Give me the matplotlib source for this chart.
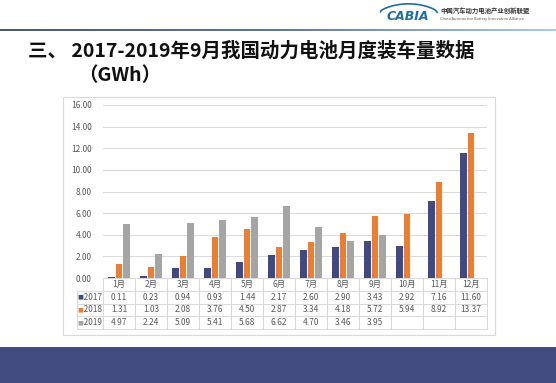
import numpy as np
import matplotlib
matplotlib.use("Agg")
import matplotlib.pyplot as plt
from matplotlib.patches import Rectangle
from matplotlib.colors import LinearSegmentedColormap

plt.rcParams['font.family'] = ['Noto Sans CJK SC', 'DejaVu Sans']

months = ['1月', '2月', '3月', '4月', '5月', '6月', '7月', '8月', '9月', '10月', '11月', '12月']
years = ['2017', '2018', '2019']
v2017 = [0.11, 0.23, 0.94, 0.93, 1.44, 2.17, 2.60, 2.90, 3.43, 2.92, 7.16, 11.60]
v2018 = [1.31, 1.03, 2.08, 3.76, 4.50, 2.87, 3.34, 4.18, 5.72, 5.94, 8.92, 13.37]
v2019 = [4.97, 2.24, 5.09, 5.41, 5.68, 6.62, 4.70, 3.46, 3.95, None, None, None]
colors = ['#3F4A82', '#ED7D31', '#A5A5A5']

W, H = 556, 383
fig = plt.figure(figsize=(W / 100, H / 100), dpi=100)
fig.patch.set_facecolor('white')


def px(x0, y0, x1, y1):
    # pixel box (top-left origin) -> figure fraction rect
    return [x0 / W, 1 - y1 / H, (x1 - x0) / W, (y1 - y0) / H]


# header gradient line
gl = fig.add_axes(px(0, 29, W, 31))
grad = np.linspace(0, 1, 256)[None, :]
cm = LinearSegmentedColormap.from_list('hdr', ['#4B5875', '#5E7A99', '#A9CDE6'])
gl.imshow(grad, aspect='auto', cmap=cm)
gl.axis('off')

# logo
fig.text(408 / W, 1 - 16 / H, 'CABIA', fontsize=9, fontweight='bold', style='italic',
         color='#1D6E9E', ha='center', va='center', family='DejaVu Sans')
la = fig.add_axes(px(380, 3, 440, 14))
t = np.linspace(0, 1, 50)
la.plot(t, np.sin(t * np.pi) ** 0.6, color='#1D6E9E', lw=1.2)
la.set_xlim(0, 1.05)
la.set_ylim(-0.2, 1.1)
la.axis('off')
fig.text(440 / W, 1 - 11 / H, '中国汽车动力电池产业创新联盟', fontsize=4.6, fontweight='bold',
         color='#333333', ha='left', va='center')
fig.text(440 / W, 1 - 19 / H, 'China Automotive Battery Innovation Alliance', fontsize=2.8,
         color='#555555', ha='left', va='center')

# title
fig.text(28 / W, 1 - 51 / H, '三、 2017-2019年9月我国动力电池月度装车量数据', fontsize=14,
         fontweight='heavy', color='#111111', ha='left', va='center')
fig.text(78 / W, 1 - 76 / H, '（GWh）', fontsize=14, fontweight='heavy',
         color='#111111', ha='left', va='center')

# chart frame
fig.patches.append(Rectangle((63 / W, 1 - 335 / H), 432 / W, 238 / H, transform=fig.transFigure,
                             facecolor='white', edgecolor='#D9D9D9', lw=0.8, zorder=-2))

# bottom band
fig.patches.append(Rectangle((0, 0), 1, (H - 347) / H, transform=fig.transFigure,
                             facecolor='#414B7F', edgecolor='none', zorder=-2))

ax = fig.add_axes(px(103, 105, 487, 278))
ax.set_zorder(2)
ax.set_facecolor('none')
x = np.arange(len(months))
bw = 0.2
for i, (vals, c) in enumerate(zip([v2017, v2018, v2019], colors)):
    y = np.array([np.nan if v is None else v for v in vals], dtype=float)
    ax.bar(x + (i - 1) * 0.235, y, bw, color=c, zorder=3)

ax.set_xlim(-0.5, 11.5)
ax.set_ylim(0, 16)
ax.set_yticks(np.arange(0, 17, 2))
ax.set_yticklabels(['%.2f' % v for v in np.arange(0, 17, 2)])
ax.tick_params(axis='y', length=0, labelsize=6, labelcolor='#595959', pad=8)
ax.set_xticks([])
ax.grid(axis='y', color='#D9D9D9', lw=0.7, zorder=0)
for s in ['top', 'right', 'left']:
    ax.spines[s].set_visible(False)
ax.spines['bottom'].set_color('#D9D9D9')

# data table (bbox covers the month columns, row labels hang out to the left)
axw = 487 - 103
axh = 278 - 105
lab_w = 28
tb_h = 51 / axh


def fmt(v):
    return '' if v is None else '%.2f' % v


cell_text = [[fmt(v) for v in vals] for vals in [v2017, v2018, v2019]]
tbl = ax.table(cellText=cell_text, rowLabels=['   ' + y for y in years], colLabels=months,
               cellLoc='center', rowLoc='left', bbox=[0, -tb_h, 1, tb_h])
tbl.auto_set_font_size(False)
col_w = 1 / 12
for (r, c), cell in tbl.get_celld().items():
    cell.set_edgecolor('#D9D9D9')
    cell.set_linewidth(0.7)
    cell.get_text().set_fontsize(6)
    cell.get_text().set_color('#595959')
    cell.set_width(col_w * (lab_w / 32) if c == -1 else col_w)
    if c == -1:
        cell.PAD = 0.04
    if r == 0:
        cell.visible_edges = 'BLR'

row_h = tb_h / 4
for i, c in enumerate(colors):
    ax.text(-lab_w / axw + 2 / axw, -row_h * (i + 1.5), '■', color=c, fontsize=4.5,
            transform=ax.transAxes, ha='left', va='center', clip_on=False,
            family='DejaVu Sans')

fig.savefig('out.png', dpi=100)
